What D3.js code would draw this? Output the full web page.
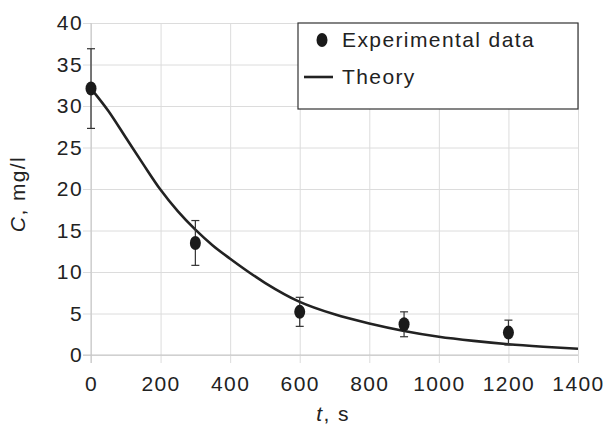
<!DOCTYPE html>
<html>
<head>
    <script src="https://d3js.org/d3.v7.min.js"></script>
    <style>
        body { margin: 0; background: #fff; }
        text { font-family: "Liberation Sans", Arial, sans-serif; fill: #222; letter-spacing: 1.4px; }
    </style>
</head>
<body>
    <div id="chart"></div>
<script>
    // experimental points
    const expT = [0, 300, 600, 900, 1200];
    const expC = [32.1, 13.5, 5.2, 3.7, 2.7];
    const expErr = [4.8, 2.7, 1.75, 1.5, 1.5];

    // theory curve
    const theoryT = [0, 50, 100, 150, 200, 250, 300, 350, 400, 500, 600, 700, 800, 900, 1000, 1100, 1200, 1300, 1400];
    const theoryC = [32.1, 29.4, 26.2, 23.0, 19.9, 17.3, 15.1, 13.2, 11.6, 8.7, 6.4, 4.9, 3.8, 2.9, 2.2, 1.7, 1.3, 1.0, 0.75];

    const xTicks = [0, 200, 400, 600, 800, 1000, 1200, 1400];
    const yTicks = [0, 5, 10, 15, 20, 25, 30, 35, 40];

    const W = 606, H = 439;
    const margin = {top: 23, right: 28, bottom: 84, left: 91};
    const width = W - margin.left - margin.right,
          height = H - margin.top - margin.bottom;

    const svg = d3.select("#chart").append("svg")
        .attr("width", W)
        .attr("height", H);
    const g = svg.append("g")
        .attr("transform", `translate(${margin.left},${margin.top})`);

    const x = d3.scaleLinear().domain([0, 1400]).range([0, width]);
    const y = d3.scaleLinear().domain([0, 40]).range([height, 0]);

    // grid + ticks
    const xAxis = g.append("g")
        .attr("transform", `translate(0,${height})`)
        .call(d3.axisBottom(x).tickValues(xTicks).tickFormat(d3.format("d"))
            .tickSize(-height).tickSizeOuter(0).tickPadding(21));
    xAxis.selectAll(".tick line").attr("stroke", "#dcdcdc").attr("y1", 8);
    xAxis.select(".domain").remove();
    xAxis.selectAll(".tick text").style("font-size", "21px").attr("fill", "#222");

    const yAxis = g.append("g")
        .call(d3.axisLeft(y).tickValues(yTicks).tickSize(-width).tickSizeOuter(0).tickPadding(8));
    yAxis.selectAll(".tick line").attr("stroke", "#dcdcdc").attr("x1", -8);
    yAxis.select(".domain").remove();
    yAxis.selectAll(".tick text").style("font-size", "21px").attr("fill", "#222");

    // axis lines (slightly darker)
    g.append("line").attr("x1", 0).attr("x2", 0).attr("y1", 0).attr("y2", height + 8)
        .attr("stroke", "#c4c4c4");
    g.append("line").attr("x1", -8).attr("x2", width).attr("y1", height).attr("y2", height)
        .attr("stroke", "#c4c4c4");

    // theory
    const theory = theoryT.map((t, i) => ({t: t, c: theoryC[i]}));
    g.append("path")
        .datum(theory)
        .attr("fill", "none")
        .attr("stroke", "#222")
        .attr("stroke-width", 2.6)
        .attr("d", d3.line().x(d => x(d.t)).y(d => y(d.c)).curve(d3.curveMonotoneX));

    // experimental data with error bars
    const pts = expT.map((t, i) => ({t: t, c: expC[i], e: expErr[i]}));
    const eb = g.selectAll(".err").data(pts).join("g").attr("class", "err")
        .attr("stroke", "#333").attr("stroke-width", 1.2);
    eb.append("line")
        .attr("x1", d => x(d.t)).attr("x2", d => x(d.t))
        .attr("y1", d => y(d.c + d.e)).attr("y2", d => y(d.c - d.e));
    eb.append("line")
        .attr("x1", d => x(d.t) - 4).attr("x2", d => x(d.t) + 4)
        .attr("y1", d => y(d.c + d.e)).attr("y2", d => y(d.c + d.e));
    eb.append("line")
        .attr("x1", d => x(d.t) - 4).attr("x2", d => x(d.t) + 4)
        .attr("y1", d => y(d.c - d.e)).attr("y2", d => y(d.c - d.e));

    g.selectAll(".pt").data(pts).join("ellipse")
        .attr("class", "pt")
        .attr("cx", d => x(d.t))
        .attr("cy", d => y(d.c))
        .attr("rx", 5.5).attr("ry", 7)
        .attr("fill", "#1a1a1a");

    // legend
    const lg = g.append("g").attr("transform", `translate(${width - 280},0)`);
    lg.append("rect").attr("width", 280).attr("height", 86)
        .attr("fill", "#fff").attr("stroke", "#333").attr("stroke-width", 1.2);
    lg.append("ellipse").attr("cx", 24).attr("cy", 17).attr("rx", 5.5).attr("ry", 7).attr("fill", "#1a1a1a");
    lg.append("text").attr("x", 44).attr("y", 24).style("font-size", "21px").text("Experimental data");
    lg.append("line").attr("x1", 6).attr("x2", 35).attr("y1", 54).attr("y2", 54)
        .attr("stroke", "#222").attr("stroke-width", 2.6);
    lg.append("text").attr("x", 44).attr("y", 61).style("font-size", "21px").text("Theory");

    // axis titles
    svg.append("text")
        .attr("transform", `translate(25,194) rotate(-90)`)
        .attr("text-anchor", "middle")
        .style("font-size", "21px")
        .html('<tspan font-style="italic">C</tspan>, mg/l');
    svg.append("text")
        .attr("x", 333)
        .attr("y", 421)
        .attr("text-anchor", "middle")
        .style("font-size", "21px")
        .html('<tspan font-style="italic">t</tspan>, s');
</script>
</body>
</html>
